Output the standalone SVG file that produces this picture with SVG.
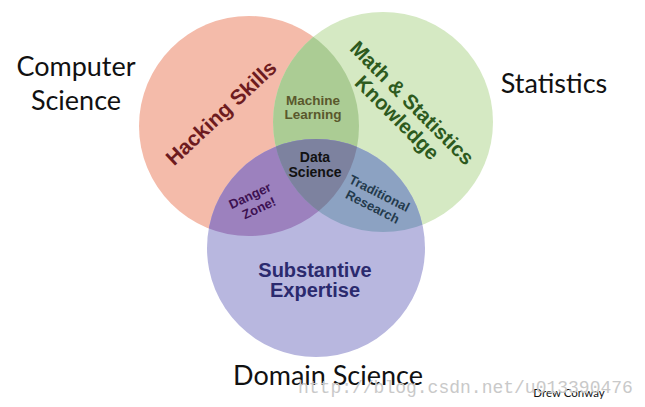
<svg xmlns="http://www.w3.org/2000/svg" width="645" height="407" viewBox="0 0 645 407">
<style>
.lbl{font-family:"Liberation Sans",Arial,sans-serif;font-weight:bold;text-anchor:middle}
.field{font-family:Lato,"Open Sans",sans-serif;font-size:27px;fill:#111;text-anchor:middle}
</style>
<defs>
<clipPath id="clipR"><circle cx="249" cy="126" r="110"/></clipPath>
<clipPath id="clipG"><circle cx="383" cy="122" r="110"/></clipPath>
</defs>
<rect width="645" height="407" fill="#fff"/>
<g id="hacking">
<circle cx="249" cy="126" r="110" fill="#F4BBAA"/>
</g>
<g id="math">
<circle cx="383" cy="122" r="110" fill="#D5E9C3"/>
<circle cx="383" cy="122" r="110" fill="#ABCC94" clip-path="url(#clipR)"/>
</g>
<g id="substantive">
<circle cx="316" cy="248" r="109" fill="#B8B7DF"/>
<circle cx="316" cy="248" r="109" fill="#9C81BE" clip-path="url(#clipR)"/>
<circle cx="316" cy="248" r="109" fill="#8CA2C2" clip-path="url(#clipG)"/>
<g clip-path="url(#clipR)"><circle cx="316" cy="248" r="109" fill="#7D829F" clip-path="url(#clipG)"/></g>
</g>
<g id="connectors"/>
<g id="labels">
<text class="lbl" font-size="21" fill="#6E1B1F" transform="translate(226,118) rotate(-43)">Hacking Skills</text>
<g transform="translate(400,115) rotate(45)" class="lbl" font-size="20.5" fill="#2D5A1E">
<text x="0" y="-10">Math &amp; Statistics</text>
<text x="0" y="11">Knowledge</text>
</g>
<text class="lbl" font-size="13.5" fill="#5A582C" x="313" y="105">Machine</text>
<text class="lbl" font-size="13.5" fill="#5A582C" x="313" y="119">Learning</text>
<text class="lbl" font-size="14" fill="#111" x="315" y="162">Data</text>
<text class="lbl" font-size="14" fill="#111" x="315" y="177">Science</text>
<g transform="translate(254,202) rotate(-25)" class="lbl" font-size="13" fill="#3D1152">
<text x="-1" y="-3">Danger</text>
<text x="2" y="12">Zone!</text>
</g>
<g transform="translate(376,200) rotate(27)" class="lbl" font-size="13" fill="#233A4C">
<text x="0" y="-3">Traditional</text>
<text x="0" y="12">Research</text>
</g>
<text class="lbl" font-size="20" fill="#2B2A6E" x="315" y="277">Substantive</text>
<text class="lbl" font-size="20" fill="#2B2A6E" x="315" y="297">Expertise</text>
</g>
<g id="titles">
<text class="field" x="76" y="76">Computer</text>
<text class="field" x="76" y="110">Science</text>
<text class="field" x="554" y="93">Statistics</text>
<text class="field" x="328" y="385">Domain Science</text>
<text x="569" y="397" font-family="Lato,sans-serif" font-size="11.5" fill="#111" text-anchor="middle">Drew Conway</text>
<text x="298" y="393" font-family="Liberation Mono,monospace" font-size="18" fill="#C9C9C9">http://blog.csdn.net/u013390476</text>
</g>
</svg>
